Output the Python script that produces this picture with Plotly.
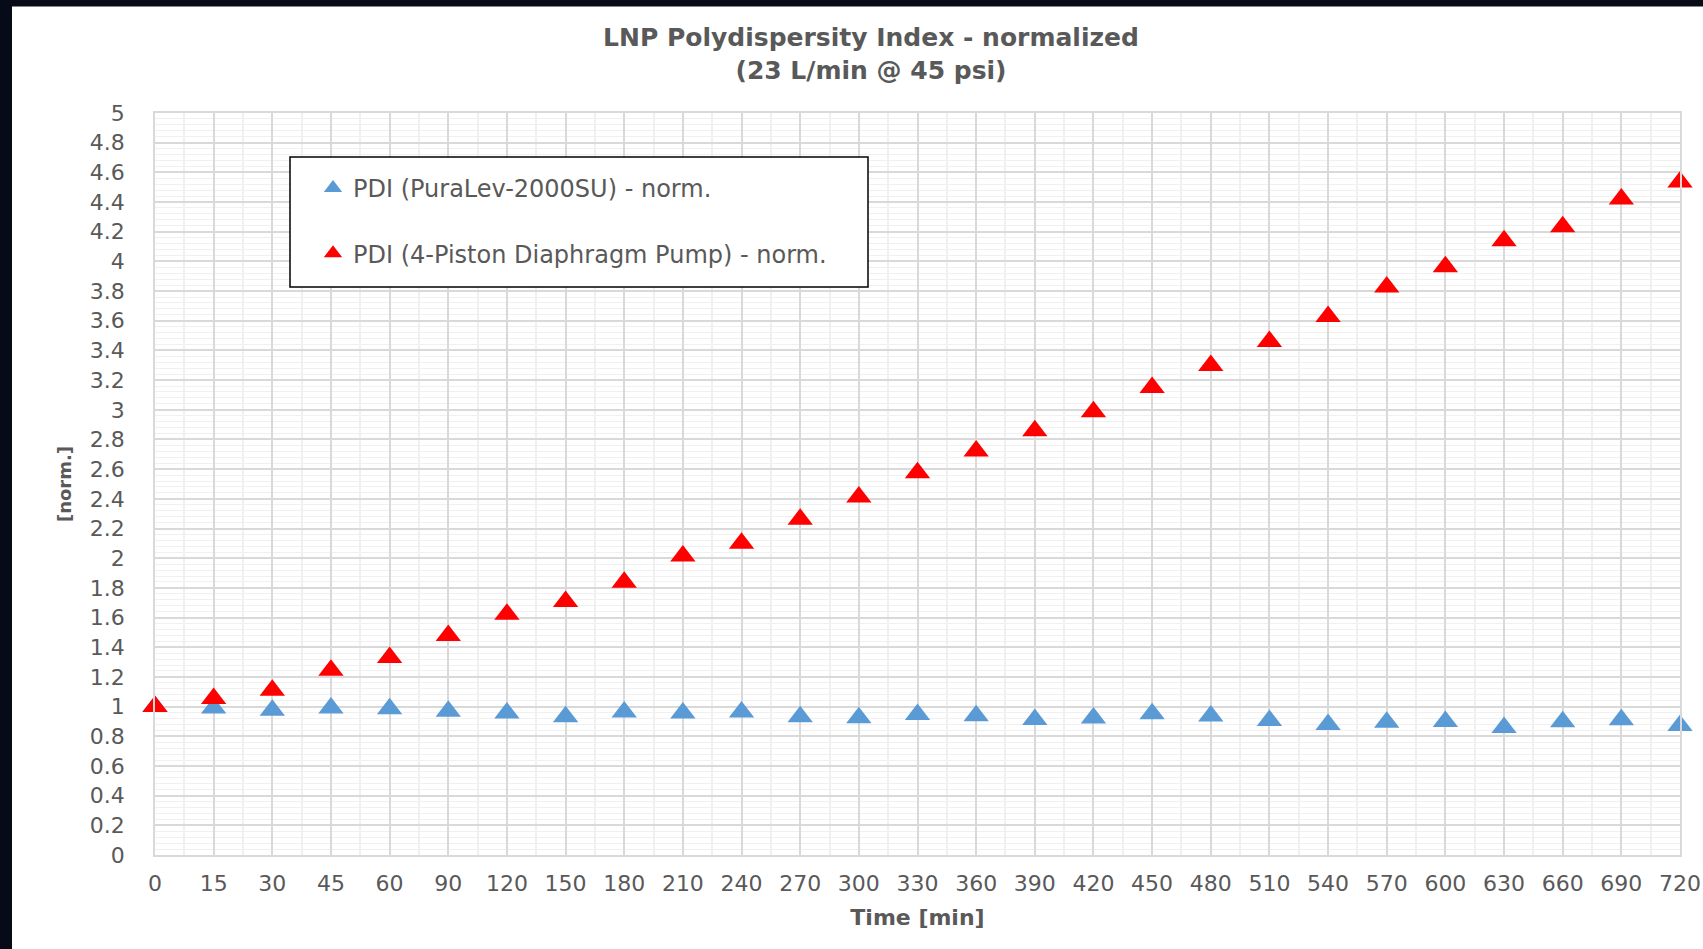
import plotly.graph_objects as go

# ---- data ----
times = ["0", "15", "30", "45", "60", "90", "120", "150", "180", "210", "240", "270", "300",
         "330", "360", "390", "420", "450", "480", "510", "540", "570", "600", "630", "660",
         "690", "720"]
pdi_puralev = [1.00, 0.99, 0.975, 0.99, 0.986, 0.968, 0.957, 0.932, 0.964, 0.957, 0.964, 0.932,
               0.925, 0.946, 0.938, 0.913, 0.924, 0.951, 0.937, 0.906, 0.879, 0.894, 0.899,
               0.860, 0.898, 0.911, 0.873]
pdi_diaphragm = [1.00, 1.055, 1.11, 1.245, 1.331, 1.479, 1.623, 1.709, 1.838, 2.014, 2.101,
                 2.263, 2.413, 2.575, 2.723, 2.859, 2.987, 3.150, 3.298, 3.460, 3.628, 3.828,
                 3.964, 4.139, 4.233, 4.421, 4.535]
y_ticks = [0, 0.2, 0.4, 0.6, 0.8, 1, 1.2, 1.4, 1.6, 1.8, 2, 2.2, 2.4, 2.6, 2.8, 3, 3.2, 3.4,
           3.6, 3.8, 4, 4.2, 4.4, 4.6, 4.8, 5]
name_blue = "PDI (PuraLev-2000SU) - norm."
name_red = "PDI (4-Piston Diaphragm Pump) - norm."

xpos = list(range(len(times)))

W, H = 1703, 949
L, R, T, B = 155, 23, 113, 94
pw, ph = W - L - R, H - T - B


def px2x(p):
    return (p - L) / pw


def px2y(p):
    return (H - B - p) / ph


TXT = "#595959"
FONT = "DejaVu Sans"

fig = go.Figure()
fig.add_trace(go.Scatter(x=xpos, y=pdi_puralev, mode="markers", name=name_blue,
                         legendgroup="a", cliponaxis=False,
                         marker=dict(symbol="triangle-up", size=22, color="#5B9BD5")))
fig.add_trace(go.Scatter(x=xpos, y=pdi_diaphragm, mode="markers", name=name_red,
                         legendgroup="b", cliponaxis=False,
                         marker=dict(symbol="triangle-up", size=22, color="#FF0000")))

shapes = [
    # legend frame
    dict(type="rect", xref="paper", yref="paper", x0=px2x(290), x1=px2x(868),
         y0=px2y(287), y1=px2y(157), line=dict(color="#000000", width=1.5),
         fillcolor="white", layer="above"),
    # dark frame edges of the screenshot
    dict(type="rect", xref="paper", yref="paper", x0=px2x(0), x1=px2x(W),
         y0=px2y(6.5), y1=px2y(0), line=dict(width=0), fillcolor="#070b17", layer="above"),
    dict(type="rect", xref="paper", yref="paper", x0=px2x(0), x1=px2x(12),
         y0=px2y(H), y1=px2y(0), line=dict(width=0), fillcolor="#070b17", layer="above"),
]

fig.update_layout(
    width=W, height=H,
    margin=dict(l=L, r=R, t=T, b=B, autoexpand=False),
    paper_bgcolor="white", plot_bgcolor="white",
    font=dict(family=FONT, color=TXT),
    title=dict(text="<b>LNP Polydispersity Index - normalized<br>(23 L/min @ 45 psi)</b>",
               xref="container", x=871 / W, xanchor="center",
               yref="container", y=1 - 46 / H, yanchor="top",
               font=dict(size=25, color=TXT, family=FONT)),
    showlegend=True,
    legend=dict(x=px2x(313), y=px2y(166), xanchor="left", yanchor="top",
                bgcolor="rgba(0,0,0,0)", borderwidth=0,
                font=dict(size=24, color=TXT, family=FONT),
                tracegroupgap=31, itemsizing="trace", itemwidth=30),
    shapes=shapes,
    xaxis=dict(range=[0, len(times) - 1], tickmode="array", tickvals=xpos, ticktext=times,
               showgrid=True, gridcolor="#d9d9d9", gridwidth=1.5,
               showline=True, linecolor="#d9d9d9", linewidth=1.5, mirror=True,
               zeroline=False, ticks="", ticklabelstandoff=8,
               tickfont=dict(size=22, color=TXT, family=FONT),
               minor=dict(tickmode="array", tickvals=[i + 0.5 for i in xpos[:-1]],
                          showgrid=True, gridcolor="#f0f0f0", gridwidth=1.5),
               title=dict(text="<b>Time [min]</b>", standoff=14,
                          font=dict(size=22, color=TXT, family=FONT)),
               automargin=False, fixedrange=True),
    yaxis=dict(range=[0, 5], tickmode="array", tickvals=y_ticks,
               ticktext=[f"{v:g}" for v in y_ticks],
               showgrid=True, gridcolor="#d9d9d9", gridwidth=1.5,
               showline=True, linecolor="#d9d9d9", linewidth=1.5, mirror=True,
               zeroline=False, ticks="", ticklabelstandoff=24,
               tickfont=dict(size=22, color=TXT, family=FONT),
               minor=dict(tickmode="linear", tick0=0, dtick=0.04,
                          showgrid=True, gridcolor="#f0f0f0", gridwidth=1),
               title=dict(text="<b>[norm.]</b>", standoff=14,
                          font=dict(size=18, color=TXT, family=FONT)),
               automargin=False, fixedrange=True),
)

fig.write_html("out.html")
